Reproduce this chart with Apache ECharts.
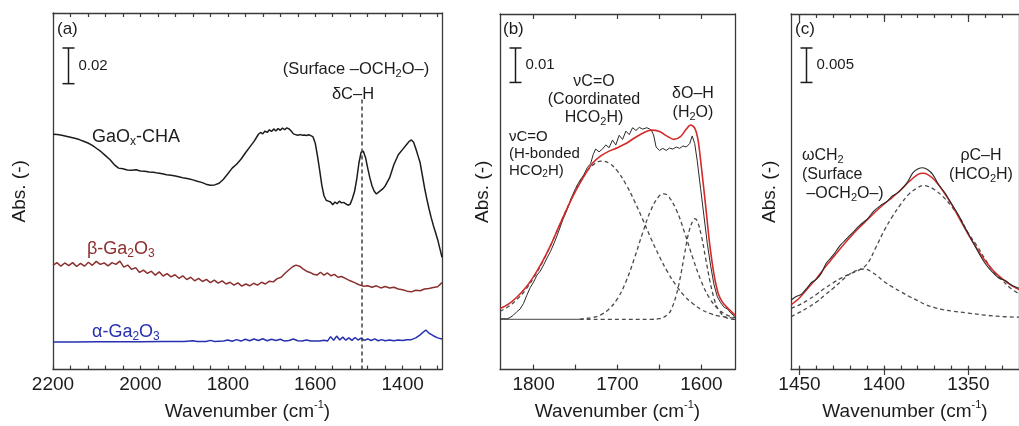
<!DOCTYPE html>
<html><head><meta charset="utf-8">
<script src="https://cdn.jsdelivr.net/npm/echarts@6/dist/echarts.min.js"></script>
<style>html,body{margin:0;padding:0;background:#fff}#c{width:1019px;height:426px}</style>
</head><body><div id="c"></div>
<script>
// ---------------- data ----------------
// panel (a): wavenumber (cm-1), absorbance (offset)
const gaoxCHA = [[2200,0.1320],[2190,0.1318],[2180,0.1314],[2170,0.1309],[2160,0.1303],[2150,0.1297],[2140,0.1290],[2130,0.1281],[2120,0.1271],[2110,0.1258],[2100,0.1240],[2090,0.1222],[2080,0.1200],[2070,0.1178],[2060,0.1150],[2050,0.1130],[2040,0.1126],[2030,0.1120],[2020,0.1118],[2010,0.1121],[2000,0.1114],[1990,0.1112],[1980,0.1108],[1970,0.1107],[1960,0.1102],[1950,0.1098],[1940,0.1093],[1930,0.1090],[1920,0.1086],[1910,0.1080],[1900,0.1074],[1890,0.1070],[1880,0.1064],[1870,0.1056],[1860,0.1050],[1850,0.1040],[1840,0.1034],[1830,0.1036],[1820,0.1045],[1810,0.1068],[1800,0.1098],[1790,0.1130],[1780,0.1152],[1770,0.1180],[1760,0.1215],[1750,0.1248],[1740,0.1280],[1730,0.1320],[1725,0.1330],[1720,0.1322],[1715,0.1338],[1710,0.1330],[1705,0.1345],[1700,0.1336],[1695,0.1350],[1690,0.1338],[1685,0.1352],[1680,0.1342],[1675,0.1355],[1670,0.1345],[1665,0.1356],[1660,0.1350],[1655,0.1338],[1650,0.1322],[1645,0.1318],[1640,0.1314],[1635,0.1318],[1630,0.1315],[1625,0.1316],[1620,0.1313],[1615,0.1317],[1610,0.1312],[1605,0.1305],[1600,0.1270],[1595,0.1200],[1590,0.1120],[1585,0.1035],[1580,0.0975],[1575,0.0950],[1570,0.0945],[1565,0.0940],[1560,0.0925],[1555,0.0940],[1550,0.0930],[1545,0.0945],[1540,0.0935],[1535,0.0938],[1530,0.0930],[1525,0.0922],[1520,0.0928],[1515,0.0960],[1510,0.1000],[1505,0.1070],[1500,0.1160],[1495,0.1220],[1490,0.1225],[1485,0.1190],[1480,0.1130],[1475,0.1075],[1470,0.1030],[1465,0.1000],[1460,0.0985],[1455,0.0995],[1450,0.1005],[1445,0.1015],[1440,0.1030],[1430,0.1075],[1420,0.1150],[1410,0.1205],[1400,0.1235],[1390,0.1265],[1385,0.1280],[1380,0.1288],[1375,0.1275],[1370,0.1240],[1365,0.1200],[1360,0.1160],[1355,0.1090],[1350,0.1020],[1345,0.0960],[1340,0.0905],[1335,0.0855],[1330,0.0810],[1325,0.0770],[1320,0.0730],[1315,0.0680],[1310,0.0630]];
const betaGa2O3 = [[2200,0.0585],[2191,0.0600],[2182,0.0580],[2173,0.0598],[2164,0.0583],[2155,0.0600],[2146,0.0578],[2137,0.0596],[2128,0.0580],[2119,0.0602],[2110,0.0585],[2101,0.0607],[2092,0.0590],[2083,0.0598],[2074,0.0582],[2065,0.0600],[2056,0.0590],[2047,0.0608],[2038,0.0575],[2029,0.0586],[2020,0.0562],[2011,0.0572],[2002,0.0545],[1993,0.0558],[1984,0.0540],[1975,0.0552],[1966,0.0530],[1957,0.0548],[1948,0.0525],[1939,0.0538],[1930,0.0520],[1921,0.0532],[1912,0.0512],[1903,0.0526],[1894,0.0505],[1885,0.0518],[1876,0.0498],[1867,0.0512],[1858,0.0494],[1849,0.0506],[1840,0.0488],[1831,0.0502],[1822,0.0485],[1813,0.0498],[1804,0.0480],[1795,0.0490],[1786,0.0474],[1777,0.0486],[1768,0.0468],[1759,0.0480],[1750,0.0470],[1741,0.0484],[1732,0.0474],[1723,0.0490],[1714,0.0480],[1705,0.0496],[1696,0.0492],[1687,0.0510],[1678,0.0518],[1669,0.0540],[1660,0.0560],[1651,0.0578],[1644,0.0586],[1636,0.0580],[1628,0.0565],[1620,0.0552],[1612,0.0545],[1604,0.0535],[1596,0.0530],[1588,0.0546],[1580,0.0530],[1572,0.0542],[1564,0.0526],[1556,0.0534],[1548,0.0518],[1540,0.0522],[1530,0.0510],[1520,0.0498],[1510,0.0488],[1500,0.0476],[1490,0.0468],[1480,0.0470],[1470,0.0462],[1460,0.0470],[1450,0.0458],[1440,0.0466],[1430,0.0458],[1420,0.0462],[1410,0.0452],[1400,0.0448],[1390,0.0440],[1380,0.0436],[1370,0.0445],[1360,0.0442],[1350,0.0452],[1340,0.0455],[1330,0.0460],[1320,0.0465],[1310,0.0488]];
const alphaGa2O3 = [[2200,0.0155],[2150,0.0155],[2100,0.0156],[2050,0.0156],[2000,0.0156],[1950,0.0157],[1900,0.0157],[1880,0.0162],[1870,0.0157],[1850,0.0158],[1840,0.0164],[1830,0.0158],[1810,0.0160],[1800,0.0166],[1790,0.0159],[1780,0.0168],[1770,0.0160],[1760,0.0170],[1750,0.0162],[1740,0.0172],[1730,0.0163],[1720,0.0173],[1710,0.0162],[1700,0.0170],[1690,0.0163],[1680,0.0170],[1670,0.0160],[1660,0.0163],[1650,0.0172],[1640,0.0162],[1630,0.0160],[1620,0.0166],[1610,0.0160],[1600,0.0160],[1590,0.0160],[1580,0.0165],[1572,0.0160],[1565,0.0185],[1558,0.0165],[1551,0.0188],[1544,0.0166],[1537,0.0182],[1530,0.0165],[1523,0.0178],[1516,0.0164],[1509,0.0180],[1502,0.0166],[1495,0.0176],[1488,0.0164],[1480,0.0172],[1472,0.0163],[1464,0.0172],[1456,0.0162],[1448,0.0168],[1440,0.0162],[1430,0.0166],[1420,0.0162],[1410,0.0166],[1400,0.0163],[1390,0.0167],[1380,0.0168],[1370,0.0178],[1360,0.0195],[1352,0.0212],[1347,0.0222],[1340,0.0205],[1330,0.0190],[1320,0.0178],[1310,0.0172]];
const deltaCHmark = [[1493,0],[1493,0.152]];

// panel (b)
const bObs = [[1840,0.0000],[1836,0.0002],[1832,0.0001],[1828,0.0005],[1824,0.0012],[1820,0.0022],[1816,0.0030],[1812,0.0046],[1808,0.0070],[1804,0.0092],[1800,0.0108],[1796,0.0128],[1792,0.0140],[1788,0.0158],[1784,0.0178],[1780,0.0196],[1775,0.0224],[1770,0.0256],[1765,0.0290],[1760,0.0318],[1755,0.0352],[1750,0.0380],[1745,0.0402],[1740,0.0420],[1736,0.0440],[1732,0.0452],[1729,0.0478],[1726,0.0494],[1722,0.0486],[1718,0.0494],[1714,0.0506],[1710,0.0498],[1706,0.0520],[1702,0.0506],[1698,0.0534],[1694,0.0522],[1690,0.0546],[1686,0.0536],[1682,0.0556],[1678,0.0548],[1674,0.0557],[1670,0.0552],[1665,0.0556],[1660,0.0550],[1657,0.0535],[1654,0.0500],[1650,0.0490],[1646,0.0496],[1642,0.0490],[1638,0.0497],[1634,0.0494],[1630,0.0500],[1626,0.0496],[1622,0.0503],[1618,0.0500],[1614,0.0510],[1611,0.0532],[1608,0.0510],[1605,0.0460],[1601,0.0380],[1597,0.0300],[1593,0.0220],[1589,0.0155],[1585,0.0100],[1581,0.0065],[1577,0.0048],[1573,0.0035],[1569,0.0030],[1565,0.0018],[1561,0.0010],[1560,0.0008]];
const bFit = [[1840,0.0031],[1830,0.0044],[1820,0.0064],[1810,0.0090],[1800,0.0124],[1790,0.0165],[1780,0.0213],[1770,0.0268],[1760,0.0322],[1750,0.0372],[1740,0.0415],[1730,0.0452],[1720,0.0474],[1710,0.0488],[1700,0.0498],[1690,0.0510],[1680,0.0526],[1670,0.0540],[1660,0.0549],[1650,0.0545],[1640,0.0530],[1633,0.0522],[1625,0.0530],[1618,0.0552],[1613,0.0564],[1608,0.0555],[1604,0.0520],[1600,0.0440],[1595,0.0330],[1590,0.0215],[1585,0.0130],[1580,0.0075],[1575,0.0050],[1570,0.0036],[1565,0.0024],[1560,0.0012]];
const bHbonded = [[1840,0.0023],[1830,0.0037],[1820,0.0057],[1810,0.0084],[1800,0.0120],[1790,0.0163],[1780,0.0213],[1770,0.0267],[1760,0.0323],[1750,0.0374],[1740,0.0417],[1730,0.0446],[1720,0.0459],[1710,0.0453],[1700,0.0430],[1690,0.0392],[1680,0.0344],[1670,0.0290],[1660,0.0234],[1650,0.0182],[1640,0.0136],[1630,0.0098],[1620,0.0067],[1610,0.0045],[1600,0.0028],[1590,0.0017],[1580,0.0010],[1570,0.0006],[1560,0.0003]];
const bCoord = [[1745,0],[1740,0.0002],[1730,0.0005],[1720,0.0013],[1710,0.0030],[1700,0.0060],[1690,0.0109],[1680,0.0176],[1670,0.0251],[1660,0.0318],[1650,0.0359],[1645,0.0364],[1640,0.0359],[1630,0.0318],[1620,0.0251],[1610,0.0176],[1600,0.0109],[1590,0.0060],[1580,0.0030],[1570,0.0013],[1560,0.0005]];
const bWater = [[1745,0],[1700,0],[1660,0],[1650,0.0002],[1640,0.0014],[1635,0.0034],[1630,0.0070],[1625,0.0124],[1620,0.0191],[1615,0.0253],[1610,0.0288],[1608,0.0292],[1605,0.0285],[1600,0.0242],[1595,0.0177],[1590,0.0112],[1585,0.0061],[1580,0.0029],[1570,0.0004],[1560,0]];
const bBaseline = [[1840,0],[1745,0]];

// panel (c)
const cObs = [[1455,0.0101],[1452,0.0106],[1449,0.0109],[1446,0.0117],[1443,0.0126],[1440,0.0131],[1437,0.0140],[1434,0.0155],[1430,0.0166],[1426,0.0180],[1422,0.0190],[1418,0.0200],[1414,0.0210],[1410,0.0218],[1406,0.0230],[1402,0.0238],[1398,0.0244],[1395,0.0252],[1392,0.0256],[1389,0.0263],[1386,0.0272],[1383,0.0285],[1380,0.0291],[1377,0.0293],[1374,0.0290],[1371,0.0283],[1368,0.0270],[1364,0.0257],[1360,0.0241],[1356,0.0225],[1352,0.0206],[1348,0.0188],[1344,0.0170],[1340,0.0154],[1336,0.0142],[1332,0.0133],[1328,0.0129],[1324,0.0122],[1320,0.0118]];
const cFit = [[1455,0.0094],[1450,0.0104],[1445,0.0118],[1440,0.0132],[1435,0.0148],[1430,0.0163],[1425,0.0178],[1420,0.0192],[1415,0.0205],[1410,0.0217],[1405,0.0229],[1400,0.0240],[1395,0.0250],[1390,0.0261],[1385,0.0273],[1380,0.0283],[1377,0.0285],[1374,0.0283],[1370,0.0275],[1365,0.0259],[1360,0.0240],[1355,0.0218],[1350,0.0196],[1345,0.0176],[1340,0.0158],[1335,0.0143],[1330,0.0132],[1325,0.0123],[1320,0.0116]];
const cRhoCH = [[1455,0.0089],[1450,0.0094],[1445,0.0101],[1440,0.0109],[1435,0.0118],[1430,0.0126],[1425,0.0133],[1420,0.0139],[1415,0.0144],[1410,0.0153],[1405,0.0176],[1400,0.0201],[1395,0.0222],[1390,0.0240],[1385,0.0255],[1380,0.0264],[1377,0.0267],[1374,0.0266],[1370,0.0261],[1365,0.0251],[1360,0.0237],[1355,0.0220],[1350,0.0198],[1345,0.0180],[1340,0.0160],[1335,0.0142],[1330,0.0130],[1325,0.0118],[1320,0.0110]];
const cOmegaCH2 = [[1455,0.0077],[1450,0.0083],[1445,0.0090],[1440,0.0098],[1435,0.0108],[1430,0.0118],[1425,0.0129],[1420,0.0139],[1415,0.0145],[1412,0.0146],[1408,0.0143],[1404,0.0136],[1400,0.0128],[1395,0.0120],[1390,0.0113],[1385,0.0106],[1380,0.0100],[1375,0.0094],[1370,0.0090],[1365,0.0087],[1360,0.0085],[1350,0.0082],[1340,0.0079],[1330,0.0077],[1320,0.0076]];

// axes: ranges, ticks, tick labels
const rangeA = [1310, 2200], rangeB = [1560, 1840], rangeC = [1320, 1455];
const absA = [0, 0.2], absB = [-0.0146, 0.0886], absC = [0, 0.0516];
const ticksA = [1320,1360,1400,1440,1480,1520,1560,1600,1640,1680,1720,1760,1800,1840,1880,1920,1960,2000,2040,2080,2120,2160,2200];
const labelsA = [1400,1600,1800,2000,2200];
const ticksB = [1600,1650,1700,1750,1800];
const labelsB = [1600,1700,1800];
const ticksC = [1330,1340,1350,1360,1370,1380,1390,1400,1410,1420,1430,1440,1450];
const majorC = [1350,1400,1450];
const labelsC = [1350,1400,1450];
const scaleBars = [0.02, 0.01, 0.005];
const scaleBarText = ['0.02', '0.01', '0.005'];

// ---------------- style / layout ----------------
const FONT = '"Liberation Sans", Arial, Helvetica, sans-serif';
const INK = '#1c1c1c';
const AX = '#3a3a3a';
const BROWN = '#8c2f2f';
const BLUE = '#2630b0';
const RED = '#d42a2a';
const DASH = '#4a4a4a';

const grids = [
  {left: 53, top: 13, width: 389, height: 362},
  {left: 500, top: 14, width: 235, height: 361},
  {left: 791, top: 14, width: 235, height: 361},
  {left: 791, top: 14, width: 235, height: 361}
];

const xName = '{n|Wavenumber (cm}{sup|-1}{n|)}';
const xNameStyle = {rich: {
  n: {fontSize: 19, fontFamily: FONT, color: INK, lineHeight: 24},
  sup: {fontSize: 11, fontFamily: FONT, color: INK, verticalAlign: 'top'}
}};

function xAxes(g, range, ticks, labels, tickLen, withName, showLine) {
  const common = {
    type: 'value', gridIndex: g, min: range[0], max: range[1], inverse: true,
    splitLine: {show: false},
    axisLine: {show: showLine, onZero: false, lineStyle: {color: AX, width: 1.3}},
    axisTick: {show: true, inside: true, length: tickLen, customValues: ticks, lineStyle: {color: AX, width: 1.2}}
  };
  const bottom = Object.assign({}, common, {
    position: 'bottom',
    axisLabel: labels ? {show: true, customValues: labels, fontSize: 19, fontFamily: FONT, color: INK, margin: 6,
      formatter: v => String(v)} : {show: false}
  });
  if (withName) Object.assign(bottom, {name: xName, nameLocation: 'middle', nameGap: 27, nameTextStyle: xNameStyle});
  const top = Object.assign({}, common, {position: 'top', axisLabel: {show: false}});
  return [bottom, top];
}
function yAxes(g, range, nameGap, show) {
  const common = {
    type: 'value', gridIndex: g, min: range[0], max: range[1], show: show,
    splitLine: {show: false}, axisTick: {show: false}, axisLabel: {show: false},
    axisLine: {show: true, onZero: false, lineStyle: {color: AX, width: 1.3}}
  };
  const left = Object.assign({}, common, {position: 'left', name: 'Abs. (-)', nameLocation: 'middle', nameGap: nameGap,
    nameTextStyle: {fontSize: 19, fontFamily: FONT, color: INK}});
  const right = Object.assign({}, common, {position: 'right'});
  return [left, right];
}

const xAxis = [].concat(
  xAxes(0, rangeA, ticksA, labelsA, 4, true, true),
  xAxes(1, rangeB, ticksB, labelsB, 5, true, true),
  xAxes(2, rangeC, ticksC, labelsC, 4, true, true),
  xAxes(3, rangeC, majorC, null, 8, false, false)
);
const yAxis = [].concat(
  yAxes(0, absA, 24, true),
  yAxes(1, absB, 8, true),
  yAxes(2, absC, 12, true),
  [{type: 'value', gridIndex: 3, min: absC[0], max: absC[1], show: false}]
);

function line(data, xi, color, width, dashed, smooth, z) {
  return {
    type: 'line', data: data, xAxisIndex: xi, yAxisIndex: xi, showSymbol: false, symbol: 'none',
    smooth: smooth || false, z: z || 2, silent: true,
    lineStyle: {color: color, width: width, type: dashed ? [4, 3] : 'solid'}
  };
}

const series = [
  line(gaoxCHA, 0, INK, 1.5),
  line(betaGa2O3, 0, BROWN, 1.5),
  line(alphaGa2O3, 0, BLUE, 1.5),
  line(deltaCHmark, 0, '#333', 1.4, true),
  line(bBaseline, 2, '#444', 1.0),
  line(bHbonded, 2, DASH, 1.3, true, 0.4),
  line(bCoord, 2, DASH, 1.3, true, 0.4),
  line(bWater, 2, DASH, 1.3, true, 0.4),
  line(bObs, 2, '#2a2a2a', 1.0, false, false, 3),
  line(bFit, 2, RED, 1.6, false, 0.3, 4),
  line(cOmegaCH2, 4, DASH, 1.3, true, 0.4),
  line(cRhoCH, 4, DASH, 1.3, true, 0.4),
  line(cFit, 4, RED, 1.5, false, 0.3, 3),
  line(cObs, 4, '#2a2a2a', 1.1, false, 0.2, 4)
];

// rich text with _{sub} markup
function richText(str) {
  return str.split('\n').map(l => '{n|' + l.replace(/_\{([^}]*)\}/g, '}{s|$1}{n|') + '}').join('\n');
}
function richDef(size, color, lh) {
  return {
    n: {fontSize: size, fontFamily: FONT, fill: color, lineHeight: lh},
    s: {fontSize: Math.round(size * 0.68), fontFamily: FONT, fill: color, verticalAlign: 'bottom'}
  };
}
function label(str, x, y, size, color, align, lh, vAlign) {
  return {
    type: 'text', x: x, y: y, z: 50, silent: true,
    style: {
      text: richText(str), rich: richDef(size, color, lh),
      align: align, verticalAlign: vAlign || 'middle',
      textAlign: align, textVerticalAlign: vAlign || 'middle'
    }
  };
}

const texts = [
  label('(a)', 57, 29, 17, INK, 'left', 20),
  label('(b)', 503, 29, 17, INK, 'left', 20),
  label('(c)', 795, 29, 17, INK, 'left', 20),
  label('(Surface –OCH_{2}O–)', 356, 69, 16.5, INK, 'center', 20),
  label('δC–H', 353, 94, 16.5, INK, 'center', 20),
  label('GaO_{x}-CHA', 92, 137, 18, INK, 'left', 22),
  label('β-Ga_{2}O_{3}', 87, 249, 18, BROWN, 'left', 22),
  label('α-Ga_{2}O_{3}', 92, 332, 18, BLUE, 'left', 22),
  label('νC=O\n(Coordinated\nHCO_{2}H)', 594, 73, 16, INK, 'center', 18, 'top'),
  label('δO–H\n(H_{2}O)', 693, 84, 16, INK, 'center', 19, 'top'),
  label('νC=O\n(H-bonded\nHCO_{2}H)', 509, 128, 15, INK, 'left', 17, 'top'),
  label('ωCH_{2}\n(Surface\n –OCH_{2}O–)', 802, 146, 16, INK, 'left', 19, 'top'),
  label('ρC–H\n(HCO_{2}H)', 981, 146, 16, INK, 'center', 19, 'top')
];

const chart = echarts.init(document.getElementById('c'), null, {renderer: 'canvas'});
chart.setOption({
  animation: false,
  backgroundColor: '#ffffff',
  grid: grids,
  xAxis: xAxis,
  yAxis: yAxis,
  series: series,
  graphic: texts
});

// scale bars (length from the value axis)
const barPos = [{x: 68.5, y: 48, yi: 0}, {x: 515.5, y: 48, yi: 2}, {x: 806.5, y: 48, yi: 4}];
const bars = [];
barPos.forEach((p, i) => {
  const h = Math.abs(chart.convertToPixel({yAxisIndex: p.yi}, scaleBars[i]) - chart.convertToPixel({yAxisIndex: p.yi}, 0));
  const st = {stroke: INK, lineWidth: 1.5};
  bars.push({type: 'line', silent: true, z: 50, shape: {x1: p.x, y1: p.y, x2: p.x, y2: p.y + h}, style: st});
  bars.push({type: 'line', silent: true, z: 50, shape: {x1: p.x - 6, y1: p.y, x2: p.x + 6, y2: p.y}, style: st});
  bars.push({type: 'line', silent: true, z: 50, shape: {x1: p.x - 6, y1: p.y + h, x2: p.x + 6, y2: p.y + h}, style: st});
  bars.push({type: 'text', silent: true, z: 50, x: p.x + 10, y: p.y + h / 2,
    style: {text: scaleBarText[i], fontSize: 15, fontFamily: FONT, fill: INK, align: 'left', verticalAlign: 'middle', textAlign: 'left', textVerticalAlign: 'middle'}});
});
chart.setOption({graphic: texts.concat(bars)});
</script></body></html>
